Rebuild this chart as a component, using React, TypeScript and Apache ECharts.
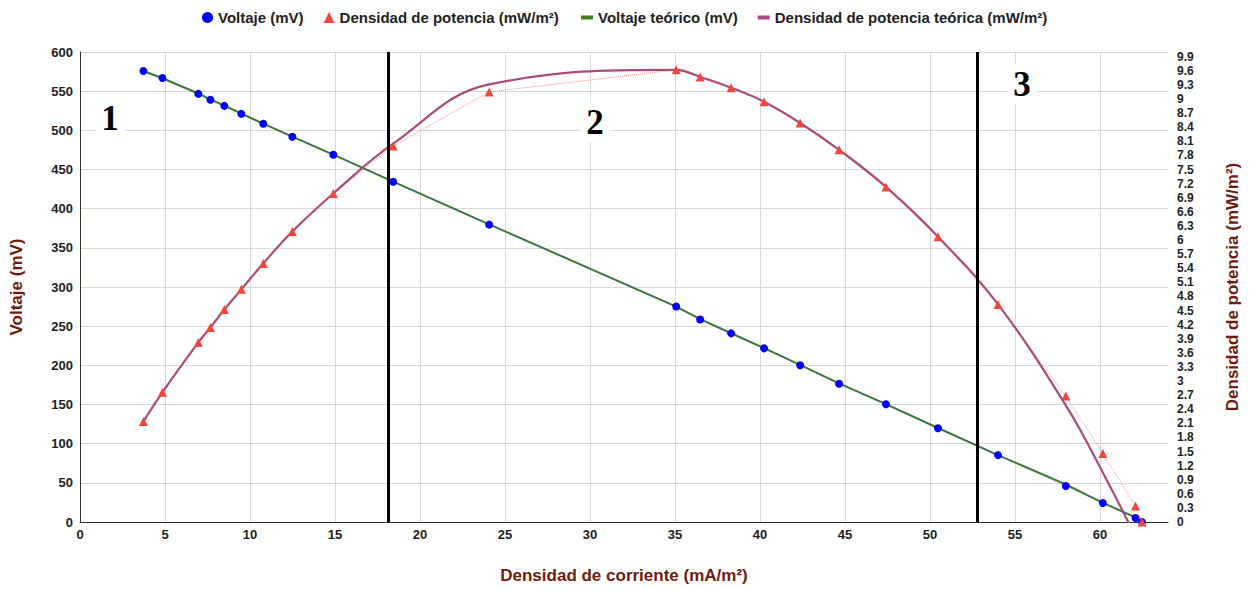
import { useEffect, useRef } from 'react';
import * as echarts from 'echarts';

// Densidad de corriente (mA/m²)
const current = [3.73, 4.85, 6.96, 7.67, 8.49, 9.49, 10.78, 12.49, 14.9, 18.42, 24.07, 35.07, 36.48, 38.3, 40.24, 42.36, 44.65, 47.41, 50.47, 54.0, 57.99, 60.17, 62.09, 62.47];
// Voltaje medido (mV)
const voltage = [575.8, 566.9, 546.5, 539, 531.2, 521, 508.3, 491.7, 468.8, 434.4, 379.6, 275.2, 258.6, 240.8, 221.7, 200, 176.5, 150.3, 119.7, 85.4, 45.9, 24.2, 5, 0];
// Densidad de potencia medida (mW/m²)
const power = [2.14, 2.76, 3.82, 4.14, 4.52, 4.95, 5.5, 6.18, 6.99, 8.0, 9.15, 9.62, 9.47, 9.24, 8.94, 8.49, 7.92, 7.13, 6.07, 4.63, 2.68, 1.46, 0.34, 0];
// Voltaje teórico (mV)
const voltageTheo = [575.8, 566.5, 547, 539.5, 531.5, 521.5, 508.5, 492, 469, 434.5, 380, 275, 259, 241, 222, 200.5, 177, 150.5, 120, 85.4, 48, 24.5, 6, 0];
// Densidad de potencia teórica (mW/m²)
const powerTheo = [2.14, 2.76, 3.82, 4.14, 4.52, 4.95, 5.5, 6.18, 6.99, 8.05, 9.31, 9.62, 9.47, 9.24, 8.94, 8.49, 7.92, 7.13, 6.07, 4.63, 2.48, 1.05, -0.31];

// Límites de zonas (mA/m²)
const regionBounds = [18.15, 52.75];
const regionLabels = ['1', '2', '3'];

const NAME_V = 'Voltaje (mV)';
const NAME_P = 'Densidad de potencia (mW/m²)';
const NAME_VT = 'Voltaje teórico (mV)';
const NAME_PT = 'Densidad de potencia teórica (mW/m²)';

const FONT = "'Liberation Sans', Arial, sans-serif";
const TITLE_COLOR = '#6e1c10';
const LABEL_COLOR = '#222';
const GRID_COLOR = '#d9d9d9';

export default function App() {
  const ref = useRef<HTMLDivElement>(null);
  useEffect(() => {
    if (!ref.current) return;
    const chart = echarts.init(ref.current, undefined, { renderer: 'svg' });
    const pair = (ys: number[]) => ys.map((y, i) => [current[i], y]);
    const labelPos = [
      { x: 110, y: 118 },
      { x: 595, y: 122 },
      { x: 1022, y: 84 },
    ];
    chart.setOption({
      animation: false,
      backgroundColor: '#fff',
      textStyle: { fontFamily: FONT },
      grid: { left: 80, right: 81, top: 52, bottom: 66, containLabel: false },
      legend: [
        {
          data: [
            { name: NAME_V, icon: 'circle' },
            { name: NAME_P, icon: 'triangle' },
          ],
          left: 197,
          top: 5,
          itemWidth: 11,
          itemHeight: 11,
          itemGap: 20,
          textStyle: { fontSize: 15, fontWeight: 'bold', color: LABEL_COLOR, fontFamily: FONT },
        },
        {
          data: [
            { name: NAME_VT, icon: 'rect' },
            { name: NAME_PT, icon: 'rect' },
          ],
          left: 576,
          top: 5,
          itemWidth: 12,
          itemHeight: 4,
          itemGap: 20,
          textStyle: { fontSize: 15, fontWeight: 'bold', color: LABEL_COLOR, fontFamily: FONT },
        },
      ],
      xAxis: {
        type: 'value',
        min: 0,
        max: 64,
        interval: 5,
        name: 'Densidad de corriente (mA/m²)',
        nameLocation: 'middle',
        nameGap: 45,
        nameTextStyle: { fontSize: 17, fontWeight: 'bold', color: TITLE_COLOR, fontFamily: FONT },
        axisLine: { show: true, lineStyle: { color: '#333', width: 1 } },
        axisTick: { show: false },
        axisLabel: { fontSize: 13, fontWeight: 'bold', color: LABEL_COLOR, margin: 6, showMaxLabel: false },
        splitLine: { show: true, showMaxLine: false, lineStyle: { color: GRID_COLOR, width: 1 } },
      },
      yAxis: [
        {
          type: 'value',
          min: 0,
          max: 600,
          interval: 50,
          name: 'Voltaje (mV)',
          nameLocation: 'middle',
          nameRotate: 90,
          nameGap: 55,
          nameTextStyle: { fontSize: 17, fontWeight: 'bold', color: TITLE_COLOR, fontFamily: FONT },
          axisLine: { show: true, lineStyle: { color: '#333', width: 1 } },
          axisTick: { show: false },
          axisLabel: { fontSize: 13, fontWeight: 'bold', color: LABEL_COLOR, margin: 7 },
          splitLine: { show: true, lineStyle: { color: GRID_COLOR, width: 1 } },
        },
        {
          type: 'value',
          min: 0,
          max: 10,
          interval: 0.3,
          position: 'right',
          name: 'Densidad de potencia (mW/m²)',
          nameLocation: 'middle',
          nameRotate: 90,
          nameGap: 56,
          nameTextStyle: { fontSize: 17, fontWeight: 'bold', color: TITLE_COLOR, fontFamily: FONT },
          axisLine: { show: false },
          axisTick: { show: false },
          axisLabel: { fontSize: 12, fontWeight: 'bold', color: LABEL_COLOR, margin: 9, showMaxLabel: false },
          splitLine: { show: false },
        },
      ],
      series: [
        {
          name: NAME_VT,
          type: 'line',
          yAxisIndex: 0,
          data: pair(voltageTheo),
          showSymbol: false,
          symbol: 'none',
          color: '#3f7f22',
          lineStyle: { color: '#3f7f22', width: 2 },
          z: 2,
          markLine: {
            silent: true,
            symbol: 'none',
            label: { show: false },
            lineStyle: { color: '#000', width: 3, type: 'solid' },
            data: regionBounds.map((v) => ({ xAxis: v })),
          },
        },
        {
          name: NAME_PT,
          type: 'line',
          yAxisIndex: 1,
          data: pair(powerTheo),
          showSymbol: false,
          symbol: 'none',
          smooth: 0.4,
          color: '#a64d79',
          lineStyle: { color: '#a64d79', width: 2.2 },
          z: 2,
        },
        {
          name: NAME_V,
          type: 'line',
          yAxisIndex: 0,
          data: pair(voltage),
          symbol: 'circle',
          symbolSize: 8,
          color: '#0000ff',
          itemStyle: { color: '#0000ff', borderWidth: 0 },
          lineStyle: { color: 'rgba(40,70,255,0.55)', width: 1, type: 'dotted' },
          z: 3,
        },
        {
          name: NAME_P,
          type: 'line',
          yAxisIndex: 1,
          data: pair(power),
          symbol: 'triangle',
          symbolSize: 9,
          color: '#f2453d',
          itemStyle: { color: '#f2453d', borderWidth: 0 },
          lineStyle: { color: 'rgba(242,69,61,0.6)', width: 1, type: 'dotted' },
          z: 4,
        },
      ],
      graphic: regionLabels.map((t, i) => ({
        type: 'text',
        x: labelPos[i].x,
        y: labelPos[i].y,
        z: 10,
        style: {
          text: t,
          font: "bold 35px 'Liberation Serif', 'Times New Roman', serif",
          fill: '#000',
          align: 'center',
          verticalAlign: 'middle',
          backgroundColor: '#fff',
          padding: [3, 6],
        },
      })),
    });
    return () => chart.dispose();
  }, []);
  return (
    <div
      ref={ref}
      style={{ position: 'fixed', left: 0, top: 0, width: 1249, height: 589, background: '#fff' }}
    />
  );
}
